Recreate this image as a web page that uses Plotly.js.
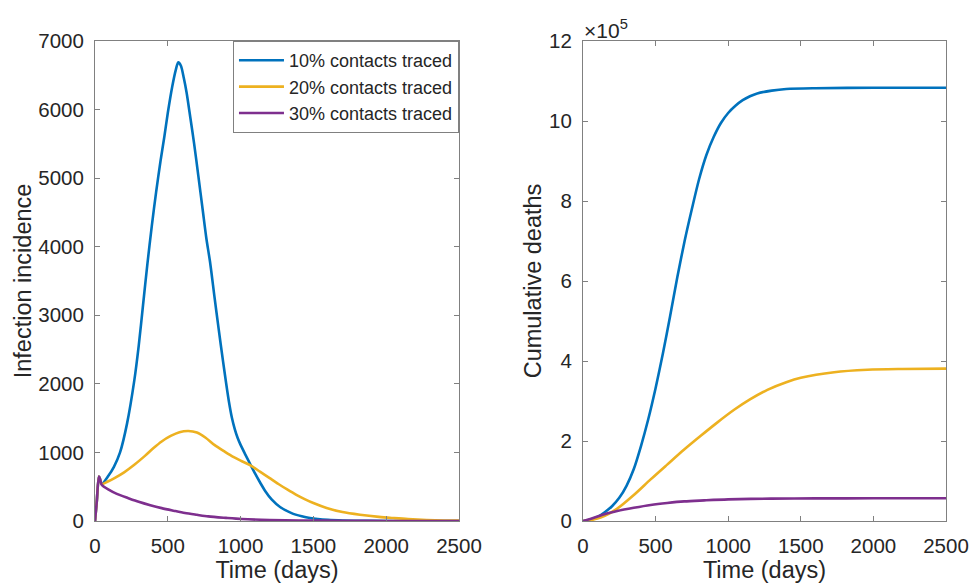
<!DOCTYPE html>
<html>
<head>
<meta charset="utf-8">
<script src="https://cdn.plot.ly/plotly-3.0.1.min.js"></script>
<style>html,body{margin:0;padding:0;background:#fff;}#chart{width:969px;height:585px;}</style>
</head>
<body>
<div id="chart"></div>
<script>
// ---- Data ----
const seriesNames = ['10% contacts traced', '20% contacts traced', '30% contacts traced'];

// Infection incidence (left panel)
const incDays10 = [0,12,27,36,46,92,130,172,220,270,300,330,360,390,420,450,476,500,530,555,572,590,610,629,655,681,710,739,765,790,820,850,880,900,920,940,960,980,1000,1030,1065,1100,1133,1170,1213,1271,1350,1420,1477,1600,1703,1900,2200,2500];
const incVals10 = [0,280,650,600,540,660,790,1000,1420,2050,2550,3150,3750,4300,4800,5250,5600,5950,6330,6580,6690,6640,6460,6250,5880,5500,5030,4550,4120,3780,3280,2790,2320,2020,1740,1510,1340,1210,1110,980,835,690,565,435,315,205,115,70,45,18,8,2,0,0];

const incDays20 = [0,12,27,36,46,92,137,200,270,343,400,458,520,580,641,700,760,820,893,950,1000,1065,1133,1200,1260,1320,1380,1440,1500,1591,1700,1820,1950,2049,2150,2278,2400,2500];
const incVals20 = [0,280,650,600,540,580,630,710,820,950,1060,1160,1240,1295,1313,1290,1215,1110,1009,935,880,815,720,625,540,460,385,320,262,190,130,91,60,43,28,15,8,5];

const incDays30 = [0,12,27,36,46,100,150,229,300,380,458,540,618,700,778,900,1007,1200,1400,1700,2000,2500];
const incVals30 = [0,280,650,600,530,450,395,333,280,230,188,150,116,90,67,45,29,15,8,3,1,0];

// Cumulative deaths (right panel)
const cumDays10 = [0,50,100,150,200,250,300,350,400,450,500,550,600,650,700,750,800,850,900,950,1000,1050,1100,1150,1200,1300,1400,1600,2000,2500];
const cumVals10 = [0,3000,10000,22000,37000,58000,88000,130000,188000,255000,332000,418000,512000,610000,700000,780000,855000,915000,960000,995000,1020000,1038000,1052000,1062000,1069000,1076000,1080000,1082000,1083000,1083000];

const cumDays20 = [0,50,100,150,236,350,466,580,695,811,924,1041,1150,1270,1400,1500,1730,1959,2200,2500];
const cumVals20 = [0,2000,6000,13000,31000,65000,104000,141000,178000,213000,246000,278000,304000,328000,347000,358000,372000,378000,380000,381000];

const cumDays30 = [0,50,100,147,236,350,466,580,697,835,1000,1294,1600,2000,2500];
const cumVals30 = [0,5000,11000,17000,25000,33000,40000,45000,49000,51500,54000,56000,56500,56700,56700];

const colors = ['#0072BD', '#EDB120', '#7E2F8E'];
const yTicksRight = [0, 200000, 400000, 600000, 800000, 1000000, 1200000];
const yTickTextRight = ['0', '2', '4', '6', '8', '10', '12'];

// ---- Build traces ----
const FONT = 'Liberation Sans, Arial, Helvetica, sans-serif';
const incDays = [incDays10, incDays20, incDays30];
const incVals = [incVals10, incVals20, incVals30];
const cumDays = [cumDays10, cumDays20, cumDays30];
const cumVals = [cumVals10, cumVals20, cumVals30];

const traces = [];
for (let i = 0; i < 3; i++) {
  traces.push({
    x: incDays[i], y: incVals[i], type: 'scatter', mode: 'lines',
    line: {color: colors[i], width: 2.6, shape: 'spline', smoothing: 0.8},
    name: seriesNames[i], xaxis: 'x', yaxis: 'y', showlegend: true
  });
}
for (let i = 0; i < 3; i++) {
  traces.push({
    x: cumDays[i], y: cumVals[i], type: 'scatter', mode: 'lines',
    line: {color: colors[i], width: 2.6, shape: 'spline', smoothing: 0.8},
    name: seriesNames[i], xaxis: 'x2', yaxis: 'y2', showlegend: false
  });
}

const axisCommon = {
  showline: true, linecolor: '#808080', linewidth: 1, mirror: 'ticks',
  ticks: 'inside', ticklen: 5, tickcolor: '#808080', tickwidth: 1,
  showgrid: false, zeroline: false,
  tickfont: {family: FONT, size: 20.5, color: '#262626'},
  automargin: false
};
const titleFont = {family: FONT, size: 23.5, color: '#262626'};

const layout = {
  width: 969, height: 585,
  margin: {l: 95, r: 23, t: 41, b: 64},
  paper_bgcolor: '#fff', plot_bgcolor: '#fff',
  font: {family: FONT, color: '#262626'},
  showlegend: true,
  xaxis: Object.assign({}, axisCommon, {
    domain: [0, 0.4277], range: [0, 2500], tickvals: [0,500,1000,1500,2000,2500],
    ticklabelstandoff: 6,
    title: {text: 'Time (days)', font: titleFont, standoff: 5}
  }),
  yaxis: Object.assign({}, axisCommon, {
    domain: [0, 1], range: [0, 7000], tickvals: [0,1000,2000,3000,4000,5000,6000,7000],
    ticklabelstandoff: 6,
    title: {text: 'Infection incidence', font: titleFont, standoff: 0}
  }),
  xaxis2: Object.assign({}, axisCommon, {
    domain: [0.5734, 1], range: [0, 2500], tickvals: [0,500,1000,1500,2000,2500], anchor: 'y2',
    ticklabelstandoff: 6,
    title: {text: 'Time (days)', font: titleFont, standoff: 5}
  }),
  yaxis2: Object.assign({}, axisCommon, {
    domain: [0, 1], range: [0, 1200000], tickvals: yTicksRight, ticktext: yTickTextRight, anchor: 'x2',
    ticklabelstandoff: 6,
    title: {text: 'Cumulative deaths', font: titleFont, standoff: 0}
  }),
  legend: {
    x: 0.4277, xanchor: 'right', y: 1, yanchor: 'top',
    bgcolor: '#fff', bordercolor: '#808080', borderwidth: 1,
    font: {family: FONT, size: 18, color: '#262626'},
    itemwidth: 45, tracegroupgap: 0
  },
  annotations: [{
    xref: 'paper', yref: 'paper', x: 0.5734, y: 1, xanchor: 'left', yanchor: 'bottom',
    text: '×10<sup>5</sup>', showarrow: false, font: {family: FONT, size: 21, color: '#262626'},
    xshift: -1, yshift: -3
  }]
};

Plotly.newPlot('chart', traces, layout, {displayModeBar: false, staticPlot: true});
</script>
</body>
</html>
